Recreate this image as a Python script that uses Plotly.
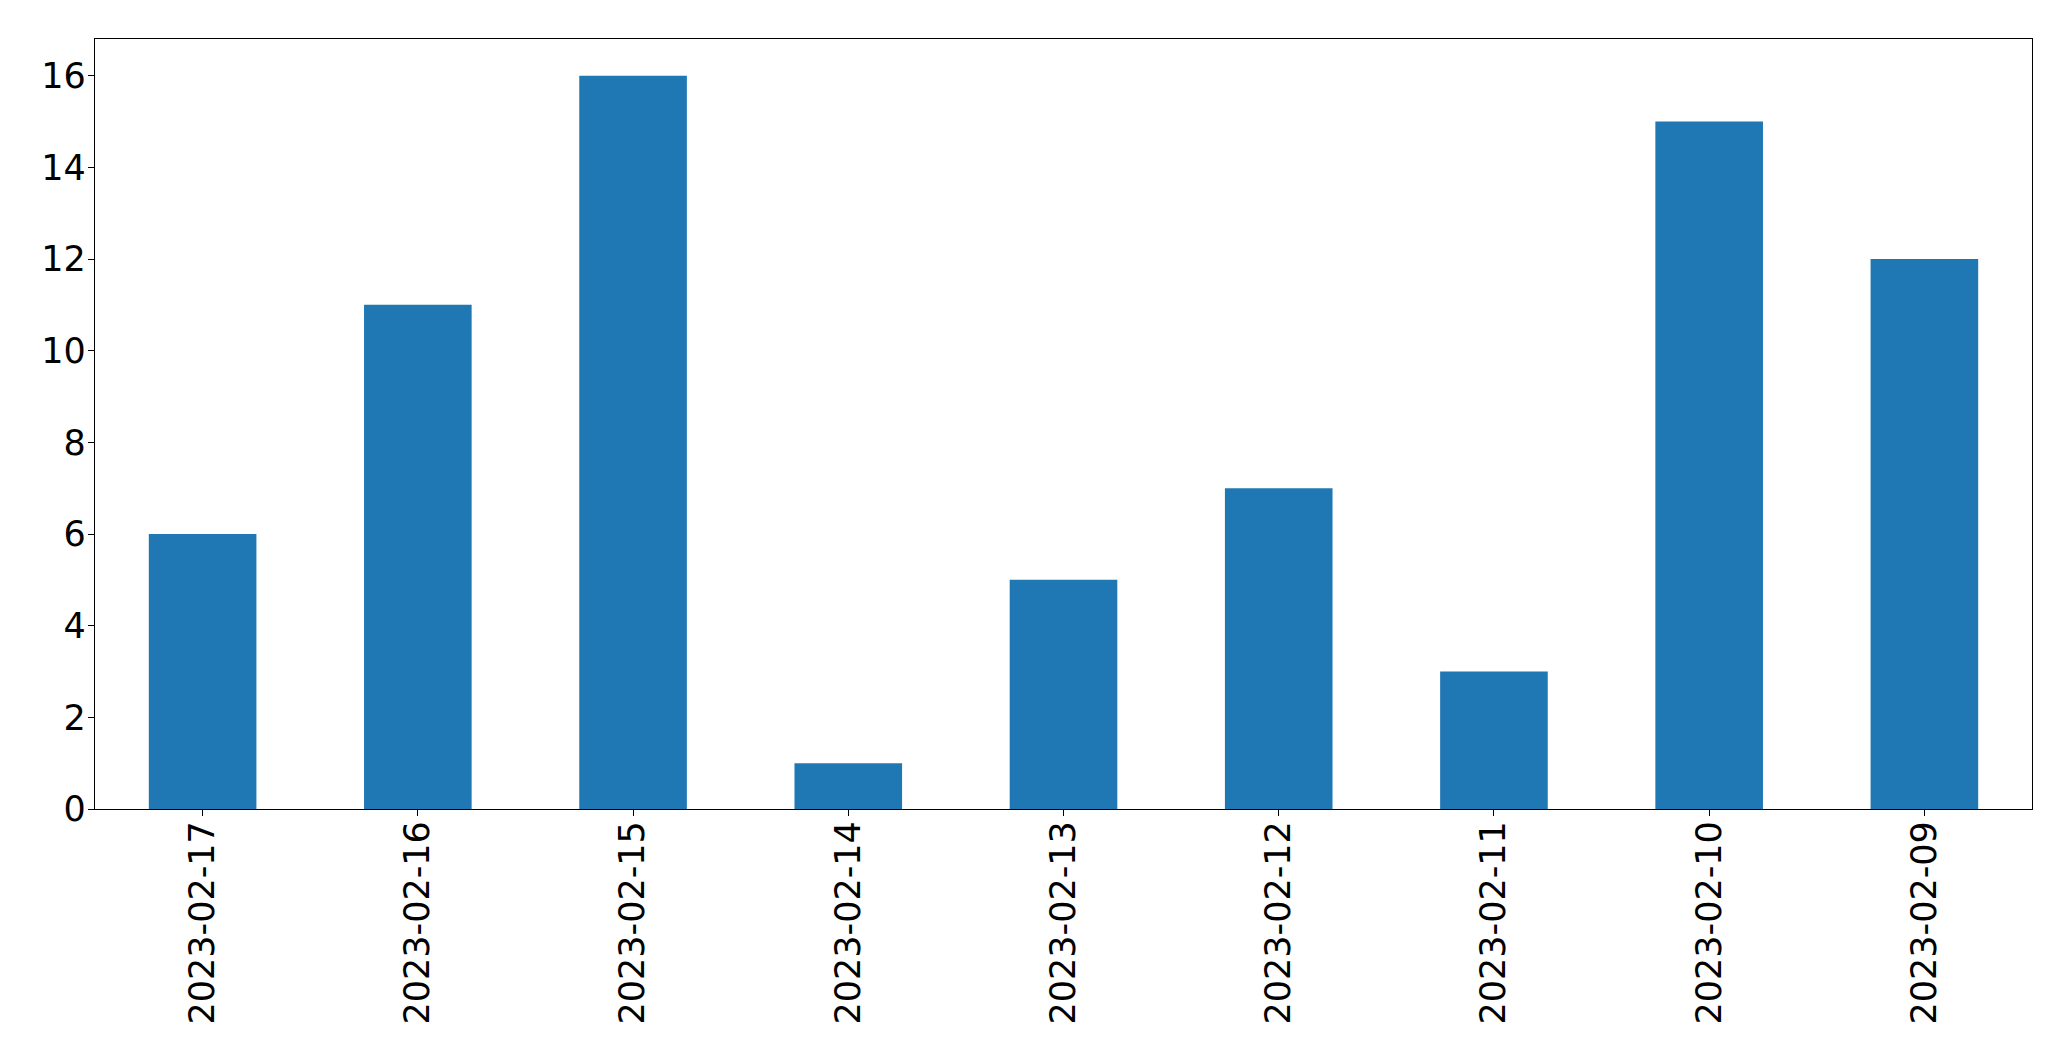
import plotly.graph_objects as go

dates = ["2023-02-17", "2023-02-16", "2023-02-15", "2023-02-14", "2023-02-13",
         "2023-02-12", "2023-02-11", "2023-02-10", "2023-02-09"]
counts = [6, 11, 16, 1, 5, 7, 3, 15, 12]

fig = go.Figure(go.Bar(x=dates, y=counts, width=0.5, marker=dict(color="#1f77b4", line=dict(width=0))))

axis_common = dict(
    showline=True, linecolor="black", linewidth=1.3, mirror=True,
    ticks="outside", ticklen=6, tickwidth=1.3, tickcolor="black",
    showgrid=False, zeroline=False,
    tickfont=dict(family="DejaVu Sans", size=35, color="black"),
)

fig.update_layout(
    width=2071, height=1061,
    margin=dict(l=87, r=47, t=31, b=260),
    plot_bgcolor="white", paper_bgcolor="white",
    showlegend=False,
    xaxis=dict(type="category", range=[-0.5, 8.5], tickangle=-90, ticklabelstandoff=-9, **axis_common),
    yaxis=dict(range=[0, 16.8], tickmode="linear", tick0=0, dtick=2, ticklabelstandoff=-5, **axis_common),
)

fig.write_html("out.html")
